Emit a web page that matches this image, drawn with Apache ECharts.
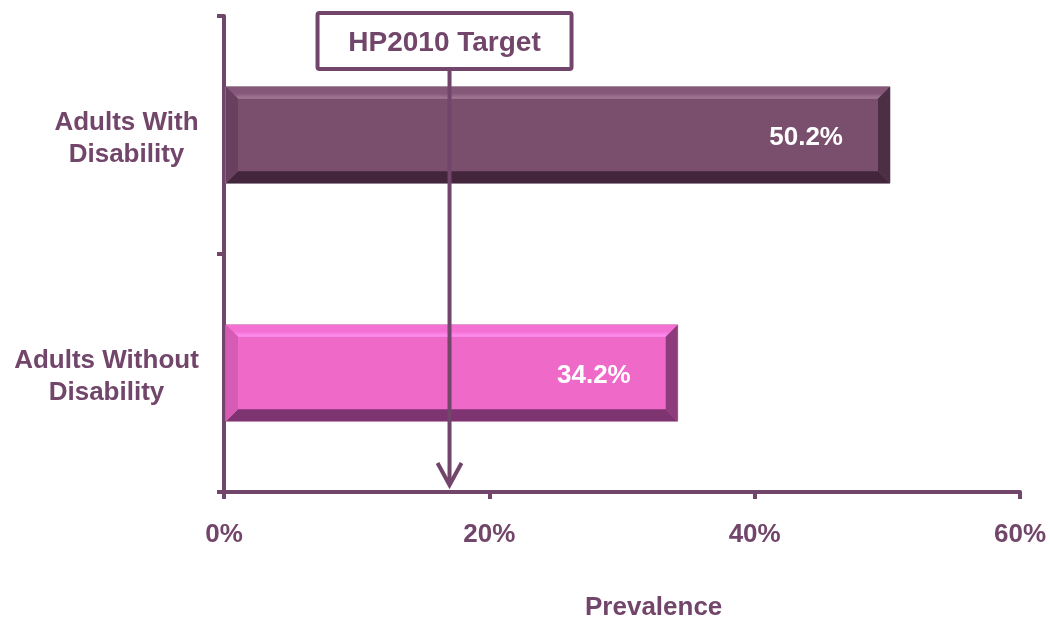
<!DOCTYPE html>
<html>
<head>
<meta charset="utf-8">
<script src="https://cdn.jsdelivr.net/npm/echarts@6/dist/echarts.min.js"></script>
<style>
  html, body { margin: 0; padding: 0; background: #fff; }
  #chart { width: 1050px; height: 619px; }
</style>
</head>
<body>
<div id="chart"></div>
<script>
const categories = ['Adults With\nDisability', 'Adults Without\nDisability'];
const prevalence = [50.2, 34.2];
const targetValue = 17;
const targetLabel = 'HP2010 Target';
const axisName = 'Prevalence';
const xMin = 0, xMax = 60, xStep = 20;

const INK = '#72456a';
const FONT = '"Liberation Sans", Arial, sans-serif';

const palettes = [
  { base: '#7a4f6d', topOuter: '#85587a', topInner: '#a57c99', bottom: '#43263c', left: '#6a4060', right: '#4c2e45', stroke: '#9a8f97' },
  { base: '#ef69c9', topOuter: '#f470d2', topInner: '#ff92f6', bottom: '#7e3470', left: '#d65bb4', right: '#8e3b7c', stroke: '#c59bb8' }
];

// measure each category label block so its lines can be centred within a right-aligned block
const measureCtx = document.createElement('canvas').getContext('2d');
measureCtx.font = 'bold 26px ' + FONT;
const labelRich = {};
categories.forEach((c, i) => {
  const w = Math.max(...c.split('\n').map(s => measureCtx.measureText(s).width));
  labelRich['l' + i] = { width: Math.ceil(w), align: 'center', color: INK, fontFamily: FONT, fontWeight: 'bold', fontSize: 26, lineHeight: 32 };
});

const chart = echarts.init(document.getElementById('chart'));

function bevelBar(params, api) {
  const idx = api.value(1);
  const val = api.value(0);
  const start = api.coord([0, idx]);
  const end = api.coord([val, idx]);
  const bandH = api.size([0, 1])[1];
  const h = bandH * 0.405;
  const x0 = start[0] + 2, x1 = end[0];
  const y0 = start[1] - h / 2, y1 = start[1] + h / 2;
  const b = 12;
  const p = palettes[params.dataIndex % palettes.length];
  return {
    type: 'group',
    children: [
      { type: 'rect', shape: { x: x0, y: y0, width: x1 - x0, height: h }, style: { fill: p.base, stroke: p.stroke, lineWidth: 1 } },
      { type: 'polygon', shape: { points: [[x0, y0], [x1, y0], [x1 - b, y0 + b], [x0 + b, y0 + b]] },
        style: { fill: new echarts.graphic.LinearGradient(0, 0, 0, 1, [{ offset: 0, color: p.topOuter }, { offset: 0.55, color: p.topOuter }, { offset: 1, color: p.topInner }]) } },
      { type: 'polygon', shape: { points: [[x0, y1], [x1, y1], [x1 - b, y1 - b], [x0 + b, y1 - b]] }, style: { fill: p.bottom } },
      { type: 'polygon', shape: { points: [[x0, y0], [x0 + b, y0 + b], [x0 + b, y1 - b], [x0, y1]] }, style: { fill: p.left } },
      { type: 'polygon', shape: { points: [[x1, y0], [x1 - b, y0 + b], [x1 - b, y1 - b], [x1, y1]] }, style: { fill: p.right } },
      { type: 'text', style: { text: val.toFixed(1) + '%', x: x1 - 47, y: start[1] + 3, align: 'right', verticalAlign: 'middle', fill: '#ffffff', font: 'bold 26px ' + FONT } }
    ]
  };
}

function targetMarker(params, api) {
  const pt = api.coord([api.value(0), 0]);
  const cs = params.coordSys;
  const x = pt[0];
  const boxW = 254, boxH = 56;
  const boxX = x - 5 - boxW / 2;
  const boxY = cs.y - 3;
  const tipY = cs.y + cs.height - 7;
  return {
    type: 'group',
    children: [
      { type: 'line', shape: { x1: x, y1: boxY + boxH, x2: x, y2: tipY - 1 }, style: { stroke: INK, lineWidth: 4 } },
      { type: 'polyline', shape: { points: [[x - 12, tipY - 22], [x, tipY], [x + 12, tipY - 22]] }, style: { stroke: INK, lineWidth: 4, fill: null, lineJoin: 'miter' } },
      { type: 'rect', shape: { x: boxX, y: boxY, width: boxW, height: boxH, r: 2 }, style: { fill: '#ffffff', stroke: INK, lineWidth: 4 } },
      { type: 'text', style: { text: targetLabel, x: boxX + boxW / 2, y: boxY + boxH / 2 + 2, align: 'center', verticalAlign: 'middle', fill: INK, font: 'bold 28px ' + FONT } }
    ]
  };
}

const option = {
  animation: false,
  backgroundColor: '#ffffff',
  grid: { left: 224, right: 30, top: 16, bottom: 127, containLabel: false },
  xAxis: {
    type: 'value', min: xMin, max: xMax, interval: xStep,
    axisLine: { show: true, lineStyle: { color: INK, width: 4 } },
    axisTick: { show: true, length: 7, lineStyle: { color: INK, width: 4 } },
    splitLine: { show: false },
    axisLabel: { formatter: '{value}%', color: INK, fontFamily: FONT, fontWeight: 'bold', fontSize: 26, margin: 30 }
  },
  yAxis: {
    type: 'category', data: categories, inverse: true,
    axisLine: { show: true, lineStyle: { color: INK, width: 4 } },
    axisTick: { show: true, length: 7, lineStyle: { color: INK, width: 4 } },
    axisLabel: {
      color: INK, fontFamily: FONT, fontWeight: 'bold', fontSize: 26, lineHeight: 32,
      align: 'right', margin: 25, padding: [7, 0, 0, 0],
      formatter: (value, index) => value.split('\n').map(s => '{l' + index + '|' + s + '}').join('\n'),
      rich: labelRich
    }
  },
  graphic: [
    { type: 'text', left: 654 - 69, top: 595, style: { text: axisName, fill: INK, font: 'bold 26px ' + FONT } }
  ],
  series: [
    { type: 'custom', renderItem: bevelBar, encode: { x: 0, y: 1 }, data: prevalence.map((v, i) => [v, i]), z: 3 },
    { type: 'custom', renderItem: targetMarker, encode: { x: 0, y: 1 }, data: [[targetValue, 0]], z: 5 }
  ]
};
chart.setOption(option);
</script>
</body>
</html>
